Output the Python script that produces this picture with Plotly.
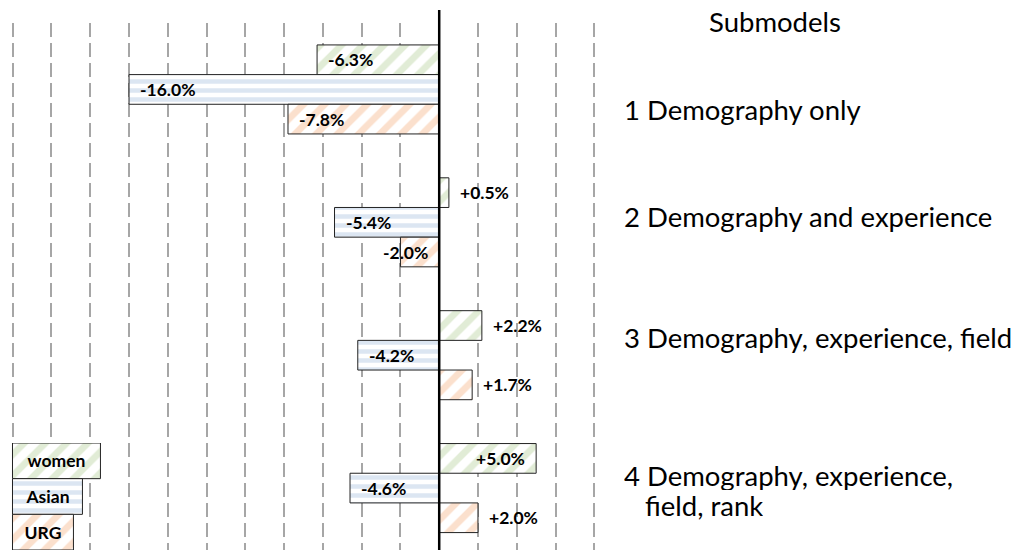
import plotly.graph_objects as go

# ---------------- data ----------------
categories = ["1 Demography only",
              "2 Demography and experience",
              "3 Demography, experience, field",
              "4 Demography, experience,\nfield, rank"]
series_names = ["women", "Asian", "URG"]
women = [-6.3, 0.5, 2.2, 5.0]
asian = [-16.0, -5.4, -4.2, -4.6]
urg = [-7.8, -2.0, 1.7, 2.0]
title_text = "Submodels"

# ---------------- style ----------------
W, H = 1013, 550
XR = [-22.5, 8.5]
PX_PER_UNIT = 19.4
ZERO_PX = 439
ML = ZERO_PX + XR[0] * PX_PER_UNIT
MR = W - (ZERO_PX + XR[1] * PX_PER_UNIT)
MT, MB = 23, 0
PW = W - ML - MR
PH = H - MT - MB
BARGAP = 0.33
LEG_LEFT = 12

fg_colors = ["#c3d9ad", "#b9cde6", "#f8c29c"]
shapes_pat = ["/", "-", "/"]
pat_size = [15, 9, 15]
pat_sol = [0.45, 0.5, 0.45]
FONT = "Lato"
label_font = dict(family=FONT, size=17.5, color="black", weight="bold")

fig = go.Figure()
ycats = list(range(len(categories)))
all_series = [women, asian, urg]
for name, vals, fg, sh, sz, so in zip(series_names, all_series, fg_colors, shapes_pat, pat_size, pat_sol):
    fig.add_trace(go.Bar(
        x=vals, y=ycats, orientation="h", name=name, showlegend=False,
        marker=dict(color="white", line=dict(color="#222222", width=1),
                    pattern=dict(shape=sh, fgcolor=fg, bgcolor="white", size=sz, solidity=so)),
        hoverinfo="skip",
    ))

# bar value labels as annotations
bw = (1 - BARGAP) / 3
annotations = []
for si, vals in enumerate(all_series):
    off = (si - 1) * bw
    for ci, v in enumerate(vals):
        fits = abs(v) * PX_PER_UNIT > 62
        txt = f"{v:+.1f}%"
        if v < 0 and fits:
            x, xa, xs = v, "left", 9
        elif v < 0:
            x, xa, xs = 0, "right", -9
        elif fits:
            x, xa, xs = v, "right", -9
        else:
            x, xa, xs = v, "left", 9
        annotations.append(dict(x=x, y=ci + off, xref="x", yref="y", text=txt,
                                xanchor=xa, yanchor="middle", xshift=xs, showarrow=False,
                                font=label_font))

# category labels on the right
def py(p):
    return (H - MB - p) / PH

def px(p):
    return (p - ML) / PW

cat_font = dict(family=FONT, size=27.5, color="black")
cat_y = [110, 216, 338, 475]
LINE_STEP = 30
for lab, yy in zip(categories, cat_y):
    lines = lab.split("\n")
    for li, line in enumerate(lines):
        kw = dict(height=LINE_STEP, valign="middle") if len(lines) > 1 else {}
        annotations.append(dict(x=px(622 if li == 0 else 643), y=py(yy + li * LINE_STEP),
                                xref="paper", yref="paper", text=line,
                                xanchor="left", yanchor="middle", showarrow=False,
                                font=cat_font, **kw))
annotations.append(dict(x=px(775), y=py(22), xref="paper", yref="paper", text=title_text,
                        xanchor="center", yanchor="middle", showarrow=False, font=cat_font))

# legend as boxes on a second axis pair
leg_widths = [88, 70, 61]
fig.add_trace(go.Bar(
    x=leg_widths, y=series_names, orientation="h", xaxis="x2", yaxis="y2", showlegend=False,
    text=series_names, textposition="inside", insidetextanchor="middle",
    textfont=dict(family=FONT, size=17.5, color="black", weight="bold"),
    marker=dict(color="white", line=dict(color="#222222", width=1),
                pattern=dict(shape=shapes_pat, fgcolor=fg_colors, bgcolor="white",
                             size=pat_size, solidity=pat_sol)),
    hoverinfo="skip", width=1.0,
))

leg_top = 443
fig.update_layout(
    width=W, height=H,
    margin=dict(l=ML, r=MR, t=MT, b=MB),
    paper_bgcolor="white", plot_bgcolor="rgba(0,0,0,0)",
    barmode="group", bargap=BARGAP, bargroupgap=0,
    xaxis=dict(range=XR, dtick=2, tick0=0, showgrid=True, gridcolor="#a6a6a6", gridwidth=1.5,
               griddash="14px,6px", zeroline=False, showticklabels=False, ticks="",
               showline=False, fixedrange=True),
    yaxis=dict(range=[3.466, -0.5], showgrid=False, zeroline=False, showticklabels=False,
               ticks="", showline=False, fixedrange=True),
    xaxis2=dict(domain=[0, 1], anchor="y2", range=[ML - LEG_LEFT, ML - LEG_LEFT + PW],
                visible=False, fixedrange=True),
    yaxis2=dict(domain=[0, py(leg_top)], anchor="x2",
                range=[2.5, -0.5], visible=False, fixedrange=True),
    annotations=annotations,
    shapes=[dict(type="line", xref="x", yref="paper", x0=0, x1=0, y0=0, y1=py(10),
                 line=dict(color="black", width=2.5))],
)

fig.write_html("out.html", config={"displayModeBar": False},
               post_script="document.body.style.margin='0';document.body.style.overflow='hidden';")
